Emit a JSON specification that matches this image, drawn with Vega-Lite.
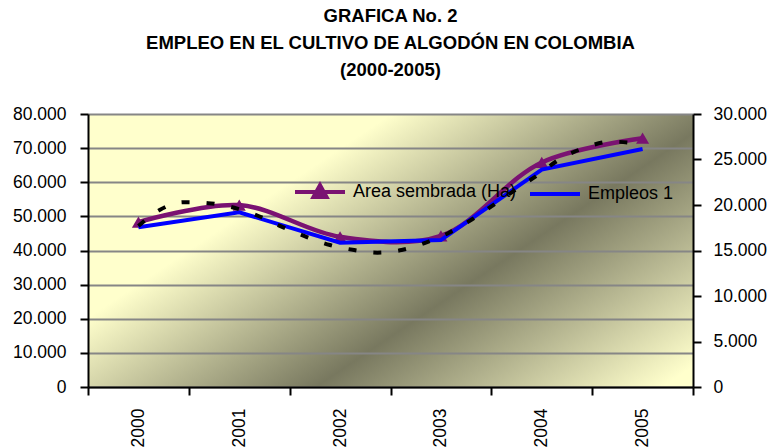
{
  "$schema": "https://vega.github.io/schema/vega-lite/v6.json",
  "width": 605,
  "height": 273,
  "autosize": {"type": "none"},
  "padding": {"left": 88, "top": 114, "right": 78, "bottom": 61},
  "background": "white",
  "title": {
    "text": ["GRAFICA No. 2", "EMPLEO EN EL CULTIVO DE ALGODÓN EN COLOMBIA", "(2000-2005)"],
    "font": "Liberation Sans",
    "fontSize": 18.5,
    "fontWeight": "bold",
    "color": "black",
    "lineHeight": 27,
    "anchor": "middle",
    "offset": 26
  },
  "datasets": {
    "series": [
      {"year": 2000, "serie": "Area sembrada (Ha)", "value": 48300},
      {"year": 2001, "serie": "Area sembrada (Ha)", "value": 53300},
      {"year": 2002, "serie": "Area sembrada (Ha)", "value": 44000},
      {"year": 2003, "serie": "Area sembrada (Ha)", "value": 44300},
      {"year": 2004, "serie": "Area sembrada (Ha)", "value": 65800},
      {"year": 2005, "serie": "Area sembrada (Ha)", "value": 72900},
      {"year": 2000, "serie": "Empleos 1", "value": 17550},
      {"year": 2001, "serie": "Empleos 1", "value": 19200},
      {"year": 2002, "serie": "Empleos 1", "value": 15850},
      {"year": 2003, "serie": "Empleos 1", "value": 16150},
      {"year": 2004, "serie": "Empleos 1", "value": 23900},
      {"year": 2005, "serie": "Empleos 1", "value": 26150}
    ],
    "trend": [
      {"year": 2000.0, "value": 17690},
      {"year": 2000.21, "value": 19450},
      {"year": 2000.45, "value": 20300},
      {"year": 2000.69, "value": 20200},
      {"year": 2000.95, "value": 19700},
      {"year": 2001.19, "value": 18790},
      {"year": 2001.42, "value": 17620},
      {"year": 2001.66, "value": 16520},
      {"year": 2001.9, "value": 15600},
      {"year": 2002.14, "value": 15050},
      {"year": 2002.37, "value": 14760},
      {"year": 2002.61, "value": 15050},
      {"year": 2002.85, "value": 15860},
      {"year": 2003.08, "value": 16960},
      {"year": 2003.31, "value": 18430},
      {"year": 2003.53, "value": 20080},
      {"year": 2003.75, "value": 21760},
      {"year": 2003.97, "value": 23370},
      {"year": 2004.18, "value": 25050},
      {"year": 2004.44, "value": 26340},
      {"year": 2004.68, "value": 26960},
      {"year": 2004.93, "value": 26780},
      {"year": 2005.0, "value": 26550}
    ]
  },
  "config": {
    "font": "Liberation Sans",
    "view": {
      "stroke": null,
      "fill": {
        "gradient": "linear",
        "x1": 0, "y1": 0, "x2": 1.152, "y2": 0.773,
        "stops": [
          {"offset": 0, "color": "#FFFFCC"},
          {"offset": 0.3, "color": "#FFFFCC"},
          {"offset": 0.627, "color": "#78785F"},
          {"offset": 0.97, "color": "#FFFFCC"},
          {"offset": 1, "color": "#FFFFCC"}
        ]
      }
    },
    "axis": {
      "domainColor": "black",
      "domainWidth": 2,
      "tickColor": "black",
      "tickWidth": 2,
      "tickSize": 8,
      "labelFont": "Liberation Sans",
      "labelFontSize": 17.5,
      "labelColor": "black"
    }
  },
  "encoding": {
    "x": {
      "field": "year", "type": "quantitative",
      "scale": {"domain": [1999.5, 2005.5], "nice": false, "zero": false},
      "axis": {
        "title": null,
        "values": [1999.5, 2000.5, 2001.5, 2002.5, 2003.5, 2004.5, 2005.5],
        "labelExpr": "datum.value < 2005 ? format(datum.value + 0.5, 'd') : ''",
        "labelOffset": 50.4,
        "labelAngle": 270,
        "labelPadding": 13,
        "labelFlush": false,
        "labelOverlap": false,
        "labelBound": false,
        "grid": false
      }
    }
  },
  "layer": [
    {
      "encoding": {
        "y": {
          "field": "value", "type": "quantitative",
          "scale": {"domain": [0, 80000], "nice": false},
          "axis": {
            "title": null,
            "orient": "left",
            "values": [0, 10000, 20000, 30000, 40000, 50000, 60000, 70000, 80000],
            "labelExpr": "replace(format(datum.value, ','), ',', '.')",
            "labelPadding": 14,
            "grid": true,
            "gridColor": "#868686",
            "gridWidth": 2
          }
        }
      },
      "layer": [
        {
          "data": {"name": "series"},
          "transform": [{"filter": "datum.serie === 'Area sembrada (Ha)'"}],
          "mark": {"type": "line", "interpolate": "catmull-rom", "strokeWidth": 4.5},
          "encoding": {
            "color": {
              "field": "serie", "type": "nominal",
              "scale": {"domain": ["Area sembrada (Ha)", "Empleos 1"], "range": ["#7A1272", "#0000FF"]},
              "legend": {
                "orient": "none",
                "legendX": 205,
                "legendY": 51,
                "direction": "horizontal",
                "title": null,
                "labelFont": "Liberation Sans",
                "labelFontSize": 18,
                "labelColor": "black",
                "labelLimit": 400,
                "labelOffset": 6,
                "columnPadding": 5,
                "symbolSize": 2500,
                "symbolStrokeWidth": 4,
                "symbolType": "M-1,0H1",
                "encode": {
                  "symbols": {
                    "update": {
                      "shape": {"signal": "datum.value === 'Empleos 1' ? 'M-1,0H1' : 'M-1,0H1M-0.26,0.2L0,-0.27L0.26,0.2Z'"},
                      "fill": {"signal": "datum.value === 'Empleos 1' ? 'transparent' : '#7A1272'"}
                    }
                  }
                }
              }
            }
          }
        },
        {
          "data": {"name": "series"},
          "transform": [{"filter": "datum.serie === 'Area sembrada (Ha)'"}],
          "mark": {"type": "point", "shape": "triangle-up", "filled": true, "size": 170, "color": "#7A1272", "opacity": 1}
        }
      ]
    },
    {
      "encoding": {
        "y": {
          "field": "value", "type": "quantitative",
          "scale": {"domain": [0, 30000], "nice": false},
          "axis": {
            "title": null,
            "orient": "right",
            "values": [0, 5000, 10000, 15000, 20000, 25000, 30000],
            "labelExpr": "replace(format(datum.value, ','), ',', '.')",
            "labelPadding": 12,
            "grid": false
          }
        }
      },
      "layer": [
        {
          "data": {"name": "series"},
          "transform": [{"filter": "datum.serie === 'Empleos 1'"}],
          "mark": {"type": "line", "strokeWidth": 4},
          "encoding": {
            "color": {
              "field": "serie", "type": "nominal",
              "scale": {"domain": ["Area sembrada (Ha)", "Empleos 1"], "range": ["#7A1272", "#0000FF"]}
            }
          }
        },
        {
          "data": {"name": "trend"},
          "mark": {"type": "line", "interpolate": "monotone", "strokeWidth": 4, "strokeDash": [8, 17], "strokeCap": "butt", "color": "black"}
        }
      ]
    }
  ],
  "resolve": {"scale": {"y": "independent"}}
}
